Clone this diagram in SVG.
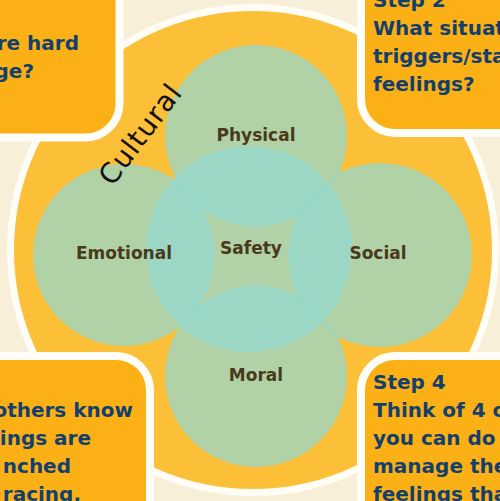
<svg xmlns="http://www.w3.org/2000/svg" width="500" height="501" viewBox="0 0 500 501">
<style>
.box{fill:#fbb116;stroke:#fffdf7;stroke-width:8}
.nv{font-family:"DejaVu Sans",sans-serif;font-weight:bold;font-size:20px;fill:#143f6b}
.lbl{font-family:"DejaVu Sans",sans-serif;font-weight:bold;font-size:17px;fill:#4a3a1c;text-anchor:middle}
.g{fill:#b1d2a6}
.t{fill:#9cd7c5}
.seam{stroke:#8fd8d0;stroke-width:1.6;fill:none}
</style>
<defs>
<clipPath id="cc"><circle cx="249" cy="249" r="103"/></clipPath>
<mask id="safe">
<circle cx="249" cy="249" r="103" fill="#fff"/>
<circle cx="256" cy="136" r="91" fill="#000"/>
<circle cx="124" cy="255" r="91" fill="#000"/>
<circle cx="380" cy="255" r="92" fill="#000"/>
<circle cx="256" cy="376" r="91" fill="#000"/>
</mask>
</defs>
<rect width="500" height="501" fill="#f8efd9"/>
<circle cx="253" cy="250" r="242.5" fill="#fbbf38" stroke="#fffdf6" stroke-width="7"/>

<g id="physical">
<circle class="g" cx="256" cy="136" r="91"/>
<circle class="t" cx="256" cy="136" r="91" clip-path="url(#cc)"/>
<text class="lbl" x="256" y="141">Physical</text>
</g>
<g id="emotional">
<circle class="g" cx="124" cy="255" r="91"/>
<circle class="t" cx="124" cy="255" r="91" clip-path="url(#cc)"/>
<text class="lbl" x="124" y="259">Emotional</text>
</g>
<g id="social">
<circle class="g" cx="380" cy="255" r="92"/>
<circle class="t" cx="380" cy="255" r="92" clip-path="url(#cc)"/>
<text class="lbl" x="378" y="259">Social</text>
</g>
<g id="moral">
<circle class="g" cx="256" cy="376" r="91"/>
<circle class="t" cx="256" cy="376" r="91" clip-path="url(#cc)"/>
<text class="lbl" x="256" y="381">Moral</text>
</g>
<g id="safety">
<circle class="g" cx="249" cy="249" r="103" mask="url(#safe)"/>
<text class="lbl" x="251" y="254">Safety</text>
</g>
<g id="seams">
<path class="seam" d="M176.9,180.9 L203.1,210.1"/>
<path class="seam" d="M339.3,172.4 L295.9,217.8"/>
<path class="seam" d="M179,327.5 L201,303.5"/>
<path class="seam" d="M338.1,337 L297.1,294.9"/>
</g>

<g id="cultural">
<text transform="translate(148,140) rotate(-53)" text-anchor="middle" font-family="DejaVu Sans, sans-serif" font-size="28" letter-spacing="1" fill="#111">Cultural</text>
</g>

<g id="step1">
<rect class="box" x="-60" y="-60" width="179.5" height="197.5" rx="34"/>
<text class="nv" x="79" y="50" text-anchor="end">re hard</text>
<text class="nv" x="34" y="78" text-anchor="end">ge?</text>
</g>
<g id="step2">
<rect class="box" x="361" y="-60" width="200" height="193" rx="34"/>
<text class="nv" x="373" y="7">Step 2</text>
<text class="nv" x="373" y="35">What situat</text>
<text class="nv" x="373" y="63">triggers/sta</text>
<text class="nv" x="373" y="91">feelings?</text>
</g>
<g id="step3">
<rect class="box" x="-60" y="356" width="210" height="200" rx="34"/>
<text class="nv" x="133" y="417" text-anchor="end">others know</text>
<text class="nv" x="91" y="445" text-anchor="end">ings are</text>
<text class="nv" x="71" y="473" text-anchor="end">nched</text>
<text class="nv" x="81" y="501" text-anchor="end">racing,</text>
</g>
<g id="step4">
<rect class="box" x="361" y="356" width="200" height="200" rx="34"/>
<text class="nv" x="373" y="389">Step 4</text>
<text class="nv" x="373" y="417">Think of 4 o</text>
<text class="nv" x="373" y="445">you can do</text>
<text class="nv" x="373" y="473">manage the</text>
<text class="nv" x="373" y="501">feelings tha</text>
</g>
</svg>
